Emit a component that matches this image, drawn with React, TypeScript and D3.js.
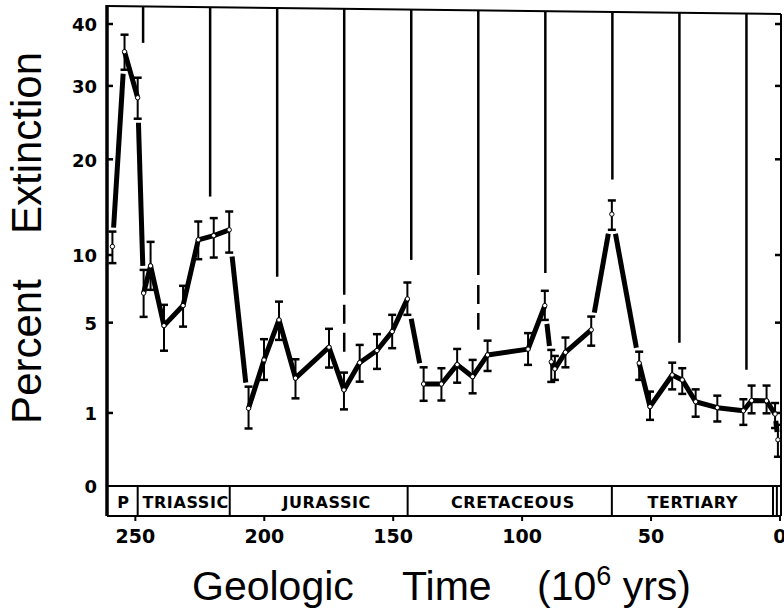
import React from "react";
import * as d3 from "d3";

// stage midpoints (10^6 yrs) and percent extinction with error bounds
const ages = [258.9, 254.2, 249.1, 246.8, 244.1, 238.9, 231.5, 225.6, 219.6, 213.6, 206.1, 200.1, 194.3, 187.9, 174.9, 169.1, 163.0, 156.3, 150.4, 144.5, 138.2, 131.3, 125.2, 119.2, 113.4, 97.7, 91.2, 88.7, 87.3, 83.2, 73.2, 65.2, 54.6, 50.4, 41.8, 37.9, 32.7, 24.3, 14.2, 11.0, 5.2, 1.9, 0.8];
const pct = [10.75, 35.35, 28.25, 6.97, 9.08, 4.82, 6.1, 11.36, 11.75, 12.3, 1.13, 2.98, 5.17, 2.18, 3.61, 1.73, 2.85, 3.44, 4.47, 6.56, 1.95, 1.95, 2.76, 2.24, 3.22, 3.51, 6.1, 2.89, 2.57, 3.35, 4.57, 13.85, 2.83, 1.18, 2.31, 2.11, 1.33, 1.15, 1.06, 1.37, 1.36, 0.97, 0.4];
const pctHi = [12.13, 38.17, 31.24, 8.75, 11.17, 6.15, 7.51, 13.11, 13.45, 14.12, 1.85, 4.04, 6.37, 3.01, 4.63, 2.41, 3.73, 4.32, 5.49, 7.76, 2.64, 2.6, 3.52, 2.98, 3.96, 4.38, 7.14, 3.47, 3.17, 4.13, 5.38, 15.28, 3.38, 1.67, 2.85, 2.6, 1.75, 1.53, 1.41, 1.89, 1.89, 1.29, 0.7];
const pctLo = [9.31, 32.47, 25.28, 5.36, 7.21, 3.43, 4.76, 9.64, 9.78, 10.21, 0.62, 2.11, 4.0, 1.44, 2.63, 1.1, 2.04, 2.57, 3.56, 5.49, 1.36, 1.37, 2.0, 1.61, 2.48, 2.75, 5.17, 2.03, 2.11, 2.64, 3.69, 12.3, 2.11, 0.82, 1.75, 1.59, 0.9, 0.78, 0.7, 0.99, 0.99, 0.63, 0.16];

// 26 Myr periodicity lines, where they stop, and dashed extensions
const periodAges = [247, 221, 195, 169, 143, 117, 91, 65, 39, 13];
const periodEnd = [36.8, 15.7, 8.2, 6.85, 9.58, 8.35, 8.5, 17.6, 3.84, 2.53];
const periodDashEnd = [null, null, null, 3.32, null, 4.57, null, null, null, null];

// geologic periods
const periodBounds = [249.1, 213.4, 144.4, 65.2, 2.7, 1.2];
const periodNames = ["P", "TRIASSIC", "JURASSIC", "CRETACEOUS", "TERTIARY"];
const periodLabelAge = [254.6, 230.5, 175.8, 103.6, 33.8];

const xTicks = [250, 200, 150, 100, 50, 0];
const yTicks = [0, 1, 5, 10, 20, 30, 40];

const W = 784;
const H = 611;
const left = 107;
const right = 781;
const zeroY = 486;
const bandBottom = 516;

export default function App() {
  const x = d3.scaleLinear().domain([261, -0.4]).range([left, right]);
  const y = d3.scaleSqrt().domain([0, 40]).range([zeroY, 24]);
  const topY = (px: number) => 6 + ((px - left) / (right - left)) * 8;

  const pts = ages.map((a, i) => ({ x: x(a), y: y(pct[i]), hi: y(pctHi[i]), lo: y(pctLo[i]) }));

  // steep segments stop short of the error bar caps
  const clip = (p: any, q: any) => {
    const d = Math.sign(q.y - p.y);
    const cap = d > 0 ? p.lo : p.hi;
    const t = (cap - p.y) / (q.y - p.y);
    const cx = p.x + t * (q.x - p.x);
    if (Math.abs(cx - p.x) < 3.5 && t < 1) {
      const t2 = (cap + d * 4 - p.y) / (q.y - p.y);
      return { pt: [p.x + t2 * (q.x - p.x), p.y + t2 * (q.y - p.y)] as [number, number], clipped: true };
    }
    return { pt: [p.x, p.y] as [number, number], clipped: false };
  };

  const runs: [number, number][][] = [];
  let cur: { pts: [number, number][]; open: boolean } | null = null;
  for (let i = 0; i < pts.length - 1; i++) {
    const s = clip(pts[i], pts[i + 1]);
    const e = clip(pts[i + 1], pts[i]);
    if (cur && cur.open && !s.clipped) {
      cur.pts.push(e.pt);
    } else {
      cur = { pts: [s.pt, e.pt], open: true };
      runs.push(cur.pts);
    }
    cur.open = !e.clipped;
  }
  const lineGen = d3.line();

  const bold = "'DejaVu Sans', sans-serif";
  const plain = "'Liberation Sans', Arial, sans-serif";
  const bandEdges = [left, ...periodBounds.map((b) => x(b))];

  return (
    <svg width={W} height={H} style={{ position: "absolute", left: 0, top: 0, background: "#fff" }}>
      {/* frame */}
      <line x1={left} y1={topY(left)} x2={right} y2={topY(right)} stroke="#000" strokeWidth={2} />
      <line x1={left} y1={5} x2={left} y2={bandBottom} stroke="#000" strokeWidth={3.5} />
      <line x1={right} y1={topY(right)} x2={right} y2={bandBottom} stroke="#000" strokeWidth={2} />
      <line x1={left} y1={zeroY} x2={right} y2={zeroY} stroke="#000" strokeWidth={2} />
      <line x1={left} y1={bandBottom} x2={right} y2={bandBottom} stroke="#000" strokeWidth={2} />

      {/* y ticks */}
      {yTicks.map((t) => (
        <g key={t}>
          {t > 0 && <line x1={left} x2={left + 6} y1={y(t)} y2={y(t)} stroke="#000" strokeWidth={2.5} />}
          {t > 0 && <line x1={right} x2={right - 6} y1={y(t)} y2={y(t)} stroke="#000" strokeWidth={2.5} />}
          <text x={97} y={y(t) + 1} dy="0.36em" textAnchor="end" fontFamily={bold} fontWeight="bold" fontSize={18}>
            {t}
          </text>
        </g>
      ))}

      {/* x ticks */}
      {xTicks.map((t) => (
        <g key={t}>
          <line x1={x(t)} x2={x(t)} y1={bandBottom} y2={bandBottom + 5} stroke="#000" strokeWidth={2} />
          <text x={x(t)} y={543} textAnchor="middle" fontFamily={bold} fontWeight="bold" fontSize={19}>
            {t}
          </text>
        </g>
      ))}

      {/* period band */}
      {periodBounds.map((b) => (
        <line key={b} x1={x(b)} x2={x(b)} y1={zeroY} y2={bandBottom} stroke="#000" strokeWidth={2} />
      ))}
      {periodNames.map((n, i) => (
        <text key={n} x={x(periodLabelAge[i])} y={508} textAnchor="middle" fontFamily={bold} fontWeight="bold" fontSize={16} letterSpacing={0.6}>
          {n}
        </text>
      ))}

      {/* periodicity lines */}
      {periodAges.map((a, i) => {
        const px = x(a);
        const dashEnd = periodDashEnd[i];
        return (
          <g key={a}>
            <line x1={px} x2={px} y1={topY(px)} y2={y(periodEnd[i])} stroke="#000" strokeWidth={2.5} />
            {dashEnd != null && (
              <line x1={px} x2={px} y1={y(periodEnd[i])} y2={y(dashEnd)} stroke="#000" strokeWidth={2.5} strokeDasharray="0 10 19 9 19 10" />
            )}
          </g>
        );
      })}

      {/* data line */}
      {runs.map((r, i) => (
        <path key={i} d={lineGen(r) || ""} fill="none" stroke="#000" strokeWidth={5} strokeLinejoin="round" />
      ))}

      {/* error bars */}
      {pts.map((p, i) => (
        <g key={i} stroke="#000">
          <line x1={p.x} x2={p.x} y1={p.hi} y2={p.lo} strokeWidth={2} />
          <line x1={p.x - 4} x2={p.x + 4} y1={p.hi} y2={p.hi} strokeWidth={2.5} />
          <line x1={p.x - 4} x2={p.x + 4} y1={p.lo} y2={p.lo} strokeWidth={2.5} />
        </g>
      ))}
      {pts.map((p, i) => (
        <circle key={i} cx={p.x} cy={p.y} r={2.2} fill="#fff" stroke="#000" strokeWidth={1} />
      ))}

      {/* axis titles */}
      <text transform="translate(41,351.5) rotate(-90)" textAnchor="middle" fontFamily={plain} fontSize={42}>
        Percent
      </text>
      <text transform="translate(41,143) rotate(-90)" textAnchor="middle" fontFamily={plain} fontSize={42}>
        Extinction
      </text>
      <text x={192} y={600} fontFamily={plain} fontSize={41}>Geologic</text>
      <text x={402} y={600} fontFamily={plain} fontSize={41}>Time</text>
      <text x={537} y={600} fontFamily={plain} fontSize={41}>
        (10
        <tspan dy={-15} fontSize={27}>6</tspan>
        <tspan dy={15} fontSize={41}>{" yrs)"}</tspan>
      </text>
    </svg>
  );
}
